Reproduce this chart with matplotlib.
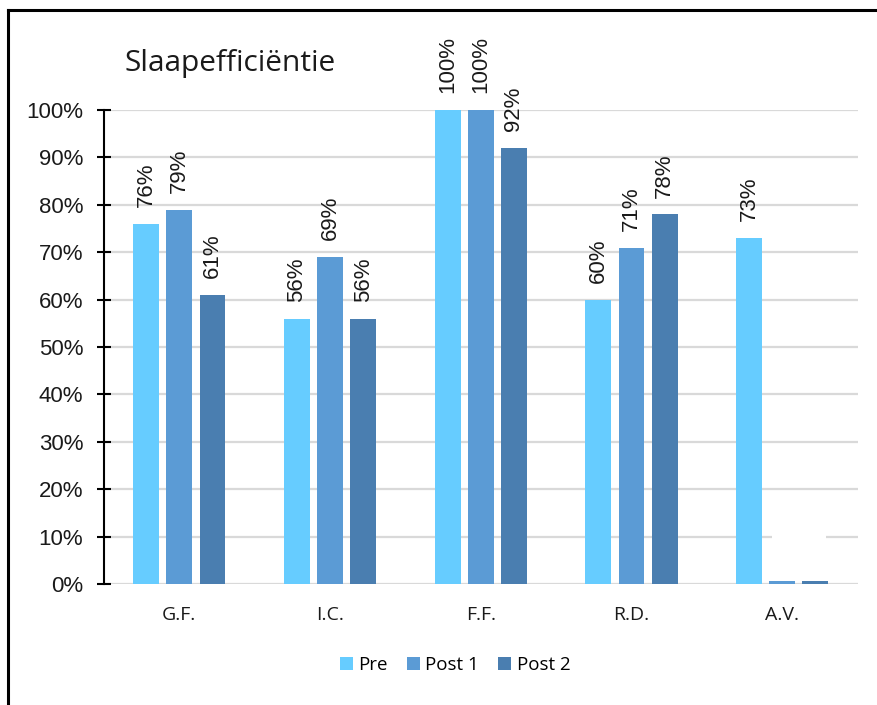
import matplotlib as mpl
mpl.use('Agg')
import matplotlib.pyplot as plt
from matplotlib.lines import Line2D
from matplotlib.patches import Rectangle
import numpy as np

# -- Data: sleep efficiency per participant, three measurement moments (%).
groups = ["G.F.", "I.C.", "F.F.", "R.D.", "A.V."]
series = ["Pre", "Post 1", "Post 2"]
pre    = [76, 56, 100, 60, 73]
post1  = [79, 69, 100, 71, 0.7]
post2  = [61, 56, 92, 78, 0.7]
show_label = [[True]*5, [True]*4 + [False], [True]*4 + [False]]

colors = ["#66CCFF", "#5B9BD5", "#4A7EB0"]

# -- Figure.
fig = plt.figure(figsize=(8.77, 7.05), dpi=100)
ax  = fig.add_axes([0.1186, 0.1716, 0.8592, 0.6723])

x     = np.arange(len(groups))
width = 0.172
step  = 0.22
for i, (vals, name) in enumerate(zip([pre, post1, post2], series)):
    bars = ax.bar(x + (i - 1)*step, vals, width, color=colors[i], label=name, zorder=3)
    for j, (b, v) in enumerate(zip(bars, vals)):
        if not show_label[i][j]:
            continue
        ax.annotate("%d%%" % v, (b.get_x() + b.get_width()/2, v),
                    xytext=(0, 12), textcoords='offset points',
                    rotation=90, ha='center', va='bottom',
                    fontsize=16, family='Liberation Sans', color='#1a1a1a',
                    annotation_clip=False)

# hidden zero labels leave a gap in the 10% line
ax.add_patch(Rectangle((3.93, 5), 0.36, 6, facecolor='white', edgecolor='none', zorder=2))

ax.set_xlim(-0.5, 4.5)
ax.set_ylim(0, 100)
ax.set_yticks(np.arange(0, 101, 10))
ax.set_yticklabels(["%d%%" % t for t in range(0, 101, 10)], family='Liberation Sans',
                   fontsize=16, color='#1a1a1a')
ax.set_xticks(x)
ax.set_xticklabels(groups, family='Open Sans', fontsize=14, color='#1a1a1a')
ax.tick_params(axis='x', length=0, pad=16)
ax.tick_params(axis='y', direction='inout', length=10, width=1.5, pad=10)
ax.yaxis.grid(True, color='#D9D9D9', linewidth=1.6, zorder=0)
ax.set_axisbelow(True)
for s in ['top', 'right', 'bottom']:
    ax.spines[s].set_visible(False)
ax.spines['left'].set_linewidth(1.5)

fig.text(125/877, 1 - 63/705, "Slaapefficiëntie", family='Open Sans', fontsize=21.5,
         va='center', ha='left', color='#1a1a1a')

leg = fig.legend(*ax.get_legend_handles_labels(), loc='center', ncol=3,
                 bbox_to_anchor=(455/877, 1 - 665/705), frameon=False,
                 prop={'family': 'Open Sans', 'size': 13.5},
                 handlelength=0.7, handleheight=0.7, handletextpad=0.3, columnspacing=1.0)

# -- Frame around the chart area.
fig.add_artist(Line2D([8/877, 8/877], [0, 1 - 10/705], color='black', linewidth=2.2))
fig.add_artist(Line2D([8/877, 1], [1 - 10/705, 1 - 10/705], color='black', linewidth=2.2))

plt.savefig("out.png", dpi=100)
